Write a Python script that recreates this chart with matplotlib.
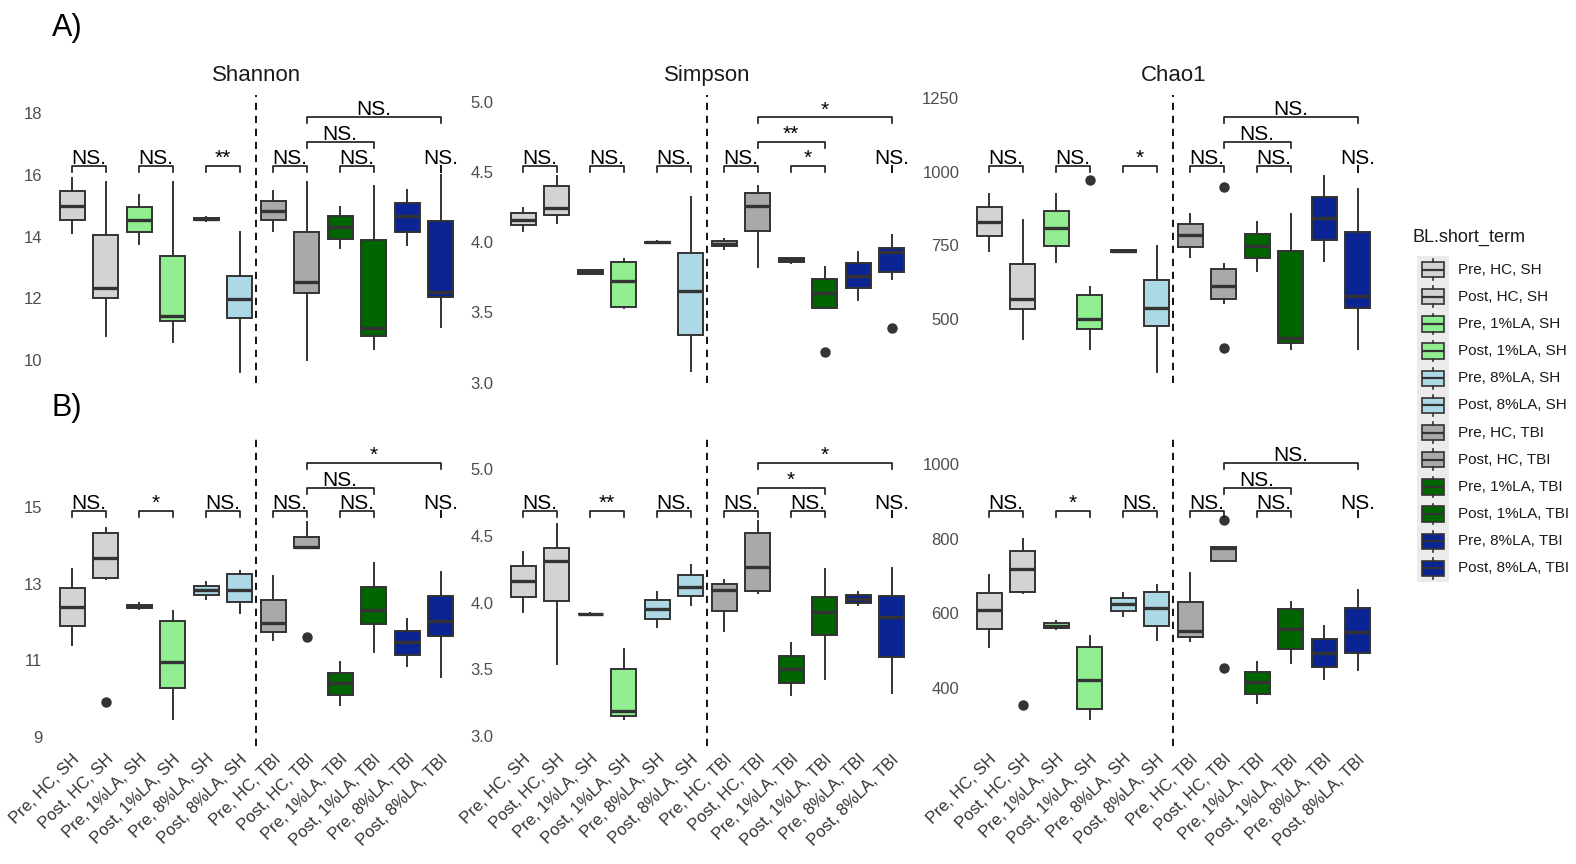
import matplotlib
matplotlib.use('Agg')
import matplotlib.pyplot as plt
import matplotlib.transforms as mtransforms
from matplotlib.ticker import FormatStrFormatter

plt.rcParams['font.family'] = ['Liberation Sans', 'DejaVu Sans']

'''
data
'''

groups = ['Pre, HC, SH', 'Post, HC, SH', 'Pre, 1%LA, SH', 'Post, 1%LA, SH',
          'Pre, 8%LA, SH', 'Post, 8%LA, SH', 'Pre, HC, TBI', 'Post, HC, TBI',
          'Pre, 1%LA, TBI', 'Post, 1%LA, TBI', 'Pre, 8%LA, TBI', 'Post, 8%LA, TBI']
fills = ['#D3D3D3', '#D3D3D3', '#90EE90', '#90EE90', '#ADD8E6', '#ADD8E6',
         '#A9A9A9', '#A9A9A9', '#006400', '#006400', '#0B2494', '#0B2494']

# whislo, q1, median, q3, whishi for each group
shannon_A = [[14.11, 14.54, 15.00, 15.46, 15.89], [10.78, 12.00, 12.32, 14.05, 15.76],
             [13.76, 14.14, 14.54, 14.95, 15.33], [10.59, 11.28, 11.44, 13.38, 15.76],
             [14.50, 14.53, 14.56, 14.60, 14.63], [9.60, 11.35, 11.98, 12.72, 14.14],
             [14.19, 14.52, 14.84, 15.16, 15.46], [10.00, 12.16, 12.54, 14.16, 15.78],
             [13.62, 13.92, 14.32, 14.65, 14.95], [10.36, 10.78, 11.03, 13.89, 15.62],
             [13.73, 14.14, 14.65, 15.08, 15.51], [11.08, 12.05, 12.22, 14.49, 15.98]]
shannon_A_out = {}

simpson_A = [[4.08, 4.12, 4.16, 4.21, 4.24], [4.14, 4.19, 4.24, 4.40, 4.47],
             [3.77, 3.775, 3.79, 3.80, 3.805], [3.53, 3.54, 3.72, 3.86, 3.88],
             [3.995, 3.997, 4.00, 4.003, 4.005], [3.08, 3.34, 3.65, 3.92, 4.32],
             [3.95, 3.97, 3.99, 4.005, 4.02], [3.82, 4.08, 4.26, 4.35, 4.40],
             [3.855, 3.86, 3.87, 3.886, 3.89], [3.53, 3.53, 3.64, 3.74, 3.82],
             [3.59, 3.67, 3.76, 3.85, 3.93], [3.74, 3.79, 3.93, 3.96, 4.05]]
simpson_A_out = {10: [3.22], 12: [3.39]}

chao1_A = [[732, 782, 831, 880, 925], [432, 534, 568, 687, 837],
           [692, 749, 808, 868, 925], [397, 465, 499, 582, 608],
           [728, 729, 732, 735, 736], [319, 476, 536, 633, 749],
           [709, 746, 786, 822, 857], [556, 567, 613, 669, 686],
           [664, 706, 749, 789, 829], [397, 420, 434, 732, 857],
           [697, 769, 844, 916, 987], [397, 536, 578, 797, 941]]
chao1_A_out = {4: [972], 8: [950, 403]}

shannon_B = [[11.40, 11.90, 12.40, 12.90, 13.38], [13.12, 13.14, 13.67, 14.32, 14.45],
             [12.33, 12.36, 12.42, 12.46, 12.49], [9.46, 10.27, 10.95, 12.03, 12.30],
             [12.60, 12.71, 12.84, 12.95, 13.04], [12.23, 12.53, 12.84, 13.26, 13.33],
             [11.53, 11.75, 11.98, 12.59, 13.21], [13.93, 13.93, 13.97, 14.22, 14.63],
             [9.83, 10.09, 10.41, 10.68, 10.96], [11.21, 11.95, 12.31, 12.91, 13.55],
             [10.85, 11.14, 11.49, 11.77, 12.08], [10.57, 11.63, 12.04, 12.68, 13.30]]
shannon_B_out = {2: [9.92], 8: [11.60]}

simpson_B = [[3.93, 4.045, 4.16, 4.275, 4.38], [3.54, 4.015, 4.31, 4.41, 4.59],
             [3.91, 3.912, 3.915, 3.918, 3.92], [3.13, 3.15, 3.19, 3.50, 3.65],
             [3.815, 3.88, 3.95, 4.02, 4.08], [3.98, 4.05, 4.12, 4.21, 4.28],
             [3.79, 3.94, 4.095, 4.14, 4.17], [4.07, 4.09, 4.265, 4.525, 4.61],
             [3.31, 3.40, 3.50, 3.60, 3.695], [3.43, 3.76, 3.93, 4.04, 4.25],
             [3.98, 4.00, 4.03, 4.06, 4.08], [3.325, 3.59, 3.895, 4.05, 4.26]]
simpson_B_out = {}

chao1_B = [[510, 558, 607, 655, 703], [653, 658, 718, 768, 799],
           [556, 559, 566, 573, 578], [315, 342, 421, 510, 539],
           [591, 606, 624, 640, 653], [528, 564, 613, 658, 676],
           [524, 537, 552, 631, 707], [739, 739, 774, 777, 777],
           [358, 383, 414, 443, 468], [467, 503, 558, 610, 631],
           [422, 456, 494, 531, 564], [446, 492, 550, 613, 662]]
chao1_B_out = {2: [353], 8: [850, 452]}

# significance labels: 1-2, 3-4, 5-6, 7-8, 9-10, 12, 8-10, 8-12
sig_shannon_A = ['NS.', 'NS.', '**', 'NS.', 'NS.', 'NS.', 'NS.', 'NS.']
sig_simpson_A = ['NS.', 'NS.', 'NS.', 'NS.', '*', 'NS.', '**', '*']
sig_chao1_A = ['NS.', 'NS.', '*', 'NS.', 'NS.', 'NS.', 'NS.', 'NS.']
sig_shannon_B = ['NS.', '*', 'NS.', 'NS.', 'NS.', 'NS.', 'NS.', '*']
sig_simpson_B = ['NS.', '**', 'NS.', 'NS.', 'NS.', 'NS.', '*', '*']
sig_chao1_B = ['NS.', '*', 'NS.', 'NS.', 'NS.', 'NS.', 'NS.', 'NS.']

pairs = [(1, 2), (3, 4), (5, 6), (7, 8), (9, 10), (12, 12), (8, 10), (8, 12)]

'''
figure
'''

W, H = 1576, 864
fig = plt.figure(figsize=(W / 100, H / 100), dpi=100)
fig.patch.set_facecolor('white')

def px_axes(left, top, right, bottom):
    return fig.add_axes([left / W, 1 - bottom / H, (right - left) / W, (bottom - top) / H])

panel_w = 12.2 * 33.5
lefts = [52, 503, 969]
rows = [(95, 383), (437, 746)]
dark = '#333333'

panels = [
    [('Shannon', shannon_A, shannon_A_out, sig_shannon_A, (9.26, 18.58), [10, 12, 14, 16, 18], '%d'),
     ('Simpson', simpson_A, simpson_A_out, sig_simpson_A, (2.997, 5.048), [3.0, 3.5, 4.0, 4.5, 5.0], '%.1f'),
     ('Chao1', chao1_A, chao1_A_out, sig_chao1_A, (282.6, 1261), [500, 750, 1000, 1250], '%d')],
    [('Shannon', shannon_B, shannon_B_out, sig_shannon_B, (8.76, 16.84), [9, 11, 13, 15], '%d'),
     ('Simpson', simpson_B, simpson_B_out, sig_simpson_B, (2.925, 5.242), [3.0, 3.5, 4.0, 4.5, 5.0], '%.1f'),
     ('Chao1', chao1_B, chao1_B_out, sig_chao1_B, (243, 1073), [400, 600, 800, 1000], '%d')],
]

# bracket levels in axes fraction (pairs, 8-10, 8-12) and tick length
levels = [(0.755, 0.8385, 0.922, 0.0208), (0.7605, 0.835, 0.916, 0.0194)]

for r, (top, bottom) in enumerate(rows):
    for c, (title, stats_in, outs, sigs, ylim, yticks, fmt) in enumerate(panels[r]):
        ax = px_axes(lefts[c], top, lefts[c] + panel_w, bottom)
        stats = []
        for i, s in enumerate(stats_in):
            stats.append(dict(whislo=s[0], q1=s[1], med=s[2], q3=s[3], whishi=s[4],
                              fliers=outs.get(i + 1, [])))
        bp = ax.bxp(stats, positions=range(1, 13), widths=0.75, patch_artist=True,
                    showcaps=False,
                    boxprops=dict(edgecolor=dark, linewidth=1.4),
                    whiskerprops=dict(color=dark, linewidth=1.4),
                    medianprops=dict(color=dark, linewidth=2.4, solid_capstyle='butt'),
                    flierprops=dict(marker='o', markerfacecolor=dark, markeredgecolor=dark,
                                    markersize=6.5))
        for patch, col in zip(bp['boxes'], fills):
            patch.set_facecolor(col)
        ax.axvline(6.5, color='black', linestyle=(0, (4, 3.2)), linewidth=1.3, zorder=0)

        ax.set_xlim(0.4, 12.6)
        ax.set_ylim(*ylim)
        ax.set_yticks(yticks)
        ax.yaxis.set_major_formatter(FormatStrFormatter(fmt))
        ax.tick_params(axis='y', length=0, pad=7, labelsize=12, labelcolor='#4D4D4D')
        ax.tick_params(axis='x', length=0, pad=4)
        for sp in ax.spines.values():
            sp.set_visible(False)
        ax.set_xticks(range(1, 13))
        if r == 1:
            ax.set_xticklabels(groups, rotation=45, ha='right', rotation_mode='anchor',
                               fontsize=12, color='#333333')
        else:
            ax.set_xticklabels([])
            ax.set_title(title, fontsize=16, color='#1A1A1A', pad=10)

        # significance brackets
        trans = mtransforms.blended_transform_factory(ax.transData, ax.transAxes)
        ttrans = mtransforms.offset_copy(trans, fig=fig, y=2, units='dots')
        lo_lv, mid_lv, hi_lv, tk = levels[r]
        for (a, b), lab, k in zip(pairs, sigs, range(8)):
            yl = lo_lv if k < 6 else (mid_lv if k == 6 else hi_lv)
            ax.plot([a, a, b, b], [yl - tk, yl, yl, yl - tk], color='#1A1A1A',
                    linewidth=1.2, transform=trans, clip_on=False)
            ax.text((a + b) / 2, yl, lab, transform=ttrans, ha='center', va='baseline',
                    fontsize=15, color='black')

fig.text(52 / W, 1 - 28 / H, 'A)', fontsize=22, va='center', ha='left')
fig.text(52 / W, 1 - 408 / H, 'B)', fontsize=22, va='center', ha='left')

'''
legend
'''

lax = px_axes(1417, 256, 1449, 582)
lax.set_facecolor('#EBEBEB')
lax.set_xlim(0, 1)
lax.set_ylim(12, 0)
lstats = [dict(whislo=k + 0.12, q1=k + 0.22, med=k + 0.5, q3=k + 0.78, whishi=k + 0.88, fliers=[])
          for k in range(12)]
lbp = lax.bxp(lstats, positions=[0.5] * 12, widths=0.68, patch_artist=True, showcaps=False,
              boxprops=dict(edgecolor=dark, linewidth=1.2),
              whiskerprops=dict(color=dark, linewidth=1.2),
              medianprops=dict(color=dark, linewidth=1.6))
for patch, col in zip(lbp['boxes'], fills):
    patch.set_facecolor(col)
lax.set_xticks([])
lax.set_yticks([])
for sp in lax.spines.values():
    sp.set_visible(False)
for k, g in enumerate(groups):
    fig.text(1458 / W, 1 - (256 + (k + 0.5) * 326 / 12) / H, g, fontsize=11,
             va='center', ha='left', color='#1A1A1A')
fig.text(1413 / W, 1 - 237 / H, 'BL.short_term', fontsize=13, va='center', ha='left',
         color='#1A1A1A')

fig.savefig('out.png', dpi=100)
